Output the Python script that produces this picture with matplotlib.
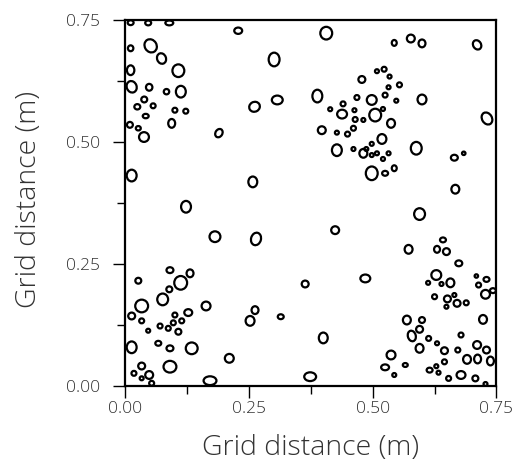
import matplotlib
matplotlib.use("Agg")
import matplotlib.pyplot as plt
from matplotlib.patches import Ellipse
from matplotlib.ticker import MultipleLocator

# ellipse centres (m), widths, heights (m) and tilt (deg)
cx = [0.0105, 0.046, 0.0887, 0.228, 0.0105, 0.051, 0.073, 0.0105, 0.107, 0.0126,
      0.048, 0.083, 0.112, 0.038, 0.024, 0.056, 0.100, 0.122, 0.041, 0.0935,
      0.009, 0.026, 0.0375, 0.189, 0.406, 0.3006, 0.478, 0.388, 0.261, 0.307,
      0.414, 0.440, 0.468, 0.498, 0.438, 0.463, 0.4645, 0.481, 0.505, 0.397,
      0.4275, 0.449, 0.461, 0.5435, 0.577, 0.5996, 0.711, 0.5085, 0.523, 0.534,
      0.554, 0.532, 0.525, 0.5476, 0.5996, 0.5207, 0.537, 0.731, 0.5186, 0.0126,
      0.1225, 0.181, 0.4275, 0.461, 0.481, 0.487, 0.498, 0.2575, 0.264, 0.424,
      0.498, 0.5085, 0.5207, 0.532, 0.498, 0.525, 0.5435, 0.588, 0.665, 0.684,
      0.667, 0.5947, 0.5725, 0.642, 0.630, 0.649, 0.674, 0.090, 0.1306, 0.026,
      0.1117, 0.0887, 0.0753, 0.0328, 0.163, 0.127, 0.0126, 0.100, 0.0328, 0.1138,
      0.0968, 0.070, 0.0866, 0.046, 0.107, 0.0126, 0.0664, 0.090, 0.134, 0.210,
      0.0328, 0.090, 0.0172, 0.048, 0.0328, 0.053, 0.171, 0.3634, 0.485, 0.262,
      0.252, 0.314, 0.400, 0.3735, 0.6285, 0.612, 0.639, 0.657, 0.7095, 0.730,
      0.714, 0.728, 0.743, 0.625, 0.651, 0.665, 0.649, 0.6705, 0.689, 0.569,
      0.5996, 0.5947, 0.579, 0.613, 0.630, 0.6785, 0.723, 0.5947, 0.537, 0.645,
      0.672, 0.711, 0.730, 0.6907, 0.712, 0.738, 0.525, 0.5658, 0.5435, 0.645,
      0.6285, 0.615, 0.633, 0.6534, 0.6785, 0.7075, 0.728]
cy = [0.7445, 0.744, 0.744, 0.728, 0.692, 0.697, 0.671, 0.647, 0.646, 0.613,
      0.612, 0.603, 0.603, 0.587, 0.572, 0.574, 0.565, 0.563, 0.553, 0.538,
      0.535, 0.528, 0.510, 0.518, 0.723, 0.669, 0.628, 0.594, 0.572, 0.586,
      0.567, 0.578, 0.591, 0.586, 0.557, 0.565, 0.546, 0.545, 0.555, 0.524,
      0.519, 0.516, 0.528, 0.703, 0.712, 0.702, 0.699, 0.645, 0.649, 0.634,
      0.617, 0.612, 0.596, 0.5845, 0.587, 0.5675, 0.538, 0.548, 0.506, 0.431,
      0.367, 0.3056, 0.483, 0.4854, 0.4766, 0.4854, 0.473, 0.418, 0.301, 0.319,
      0.496, 0.4766, 0.465, 0.4766, 0.4356, 0.4356, 0.446, 0.487, 0.4676, 0.4766,
      0.403, 0.352, 0.2797, 0.299, 0.2797, 0.275, 0.251, 0.237, 0.2305, 0.2153,
      0.211, 0.1977, 0.177, 0.1635, 0.1635, 0.150, 0.143, 0.145, 0.133, 0.133,
      0.129, 0.1224, 0.1177, 0.1128, 0.1107, 0.0788, 0.087, 0.0767, 0.0767, 0.0562,
      0.0404, 0.039, 0.0254, 0.022, 0.0152, 0.005, 0.0103, 0.2086, 0.220, 0.155,
      0.133, 0.1415, 0.098, 0.0185, 0.227, 0.211, 0.2086, 0.211, 0.225, 0.218,
      0.2065, 0.1875, 0.195, 0.1825, 0.178, 0.186, 0.162, 0.169, 0.170, 0.1347,
      0.1347, 0.1157, 0.102, 0.097, 0.087, 0.104, 0.136, 0.0767, 0.063, 0.0718,
      0.0732, 0.0835, 0.0732, 0.054, 0.0548, 0.0507, 0.0377, 0.0425, 0.022, 0.049,
      0.040, 0.032, 0.0267, 0.015, 0.022, 0.015, 0.0035]
ew = [0.012, 0.012, 0.016, 0.016, 0.011, 0.024, 0.018, 0.015, 0.024, 0.020,
      0.013, 0.011, 0.020, 0.012, 0.012, 0.010, 0.010, 0.010, 0.012, 0.014,
      0.012, 0.010, 0.020, 0.014, 0.024, 0.022, 0.014, 0.020, 0.022, 0.022,
      0.008, 0.010, 0.010, 0.020, 0.020, 0.008, 0.010, 0.008, 0.024, 0.016,
      0.008, 0.010, 0.010, 0.010, 0.016, 0.014, 0.016, 0.008, 0.010, 0.008,
      0.010, 0.008, 0.010, 0.008, 0.018, 0.008, 0.016, 0.020, 0.018, 0.020,
      0.020, 0.022, 0.020, 0.008, 0.016, 0.008, 0.008, 0.018, 0.020, 0.016,
      0.008, 0.008, 0.008, 0.008, 0.024, 0.012, 0.010, 0.022, 0.014, 0.007,
      0.016, 0.022, 0.016, 0.012, 0.012, 0.014, 0.014, 0.014, 0.014, 0.012,
      0.026, 0.012, 0.022, 0.026, 0.018, 0.016, 0.014, 0.010, 0.010, 0.010,
      0.010, 0.010, 0.010, 0.008, 0.012, 0.020, 0.012, 0.014, 0.024, 0.018,
      0.014, 0.026, 0.010, 0.016, 0.008, 0.010, 0.026, 0.014, 0.020, 0.014,
      0.018, 0.012, 0.018, 0.024, 0.020, 0.008, 0.008, 0.016, 0.007, 0.012,
      0.010, 0.018, 0.012, 0.010, 0.014, 0.008, 0.008, 0.014, 0.010, 0.016,
      0.012, 0.014, 0.016, 0.010, 0.008, 0.010, 0.016, 0.016, 0.018, 0.014,
      0.010, 0.016, 0.014, 0.016, 0.014, 0.014, 0.016, 0.010, 0.008, 0.010,
      0.008, 0.012, 0.008, 0.010, 0.018, 0.012, 0.008]
eh = [0.010, 0.010, 0.010, 0.013, 0.012, 0.028, 0.022, 0.020, 0.026, 0.024,
      0.014, 0.011, 0.024, 0.012, 0.011, 0.010, 0.010, 0.010, 0.009, 0.018,
      0.012, 0.009, 0.020, 0.018, 0.026, 0.028, 0.014, 0.026, 0.020, 0.018,
      0.008, 0.010, 0.010, 0.020, 0.018, 0.008, 0.010, 0.008, 0.026, 0.016,
      0.008, 0.010, 0.010, 0.012, 0.016, 0.016, 0.020, 0.008, 0.010, 0.008,
      0.010, 0.008, 0.010, 0.008, 0.020, 0.008, 0.018, 0.026, 0.020, 0.024,
      0.024, 0.022, 0.024, 0.008, 0.018, 0.008, 0.008, 0.022, 0.026, 0.016,
      0.008, 0.008, 0.008, 0.008, 0.028, 0.010, 0.012, 0.026, 0.012, 0.007,
      0.018, 0.024, 0.018, 0.010, 0.014, 0.014, 0.012, 0.012, 0.016, 0.012,
      0.028, 0.012, 0.024, 0.026, 0.018, 0.014, 0.014, 0.010, 0.010, 0.010,
      0.010, 0.010, 0.010, 0.008, 0.012, 0.024, 0.010, 0.012, 0.024, 0.018,
      0.014, 0.024, 0.010, 0.016, 0.008, 0.010, 0.018, 0.014, 0.016, 0.016,
      0.020, 0.010, 0.022, 0.018, 0.020, 0.008, 0.008, 0.018, 0.007, 0.010,
      0.010, 0.018, 0.010, 0.010, 0.014, 0.008, 0.008, 0.014, 0.010, 0.018,
      0.012, 0.014, 0.022, 0.010, 0.008, 0.010, 0.018, 0.018, 0.018, 0.014,
      0.010, 0.016, 0.014, 0.018, 0.018, 0.018, 0.012, 0.008, 0.008, 0.010,
      0.008, 0.010, 0.008, 0.010, 0.016, 0.012, 0.008]
tilt = [0] * len(cx)
tilted = {5: 30, 6: 20, 9: 20, 23: -30, 28: 30, 46: 30, 57: 30, 68: -15,
          124: 30, 142: 15, 148: 30}
for k, a in tilted.items():
    tilt[k] = a

ticks = [0.0, 0.25, 0.5, 0.75]
tick_labels = ["0.00", "0.25", "0.50", "0.75"]

fig = plt.figure(figsize=(5.12, 4.65), dpi=100)
ax = fig.add_axes([0.245, 0.1705, 0.7245, 0.7865])

for x, y, w, h, a in zip(cx, cy, ew, eh, tilt):
    ax.add_patch(Ellipse((x, y), w, h, angle=a, fill=False,
                         edgecolor="black", linewidth=1.6))

ax.set_xlim(0, 0.75)
ax.set_ylim(0, 0.75)
ax.set_xticks(ticks)
ax.set_yticks(ticks)
ax.set_xticklabels(tick_labels, family="Open Sans", fontweight=300)
ax.set_yticklabels(tick_labels, family="Open Sans", fontweight=300)
ax.xaxis.set_minor_locator(MultipleLocator(0.125))
ax.yaxis.set_minor_locator(MultipleLocator(0.125))
ax.tick_params(which="major", direction="out", length=8.5, width=1)
ax.tick_params(which="minor", direction="out", length=5.5, width=1)
ax.tick_params(axis="x", labelsize=12.5, labelcolor="#333333", pad=2.5)
ax.tick_params(axis="y", labelsize=12.5, labelcolor="#333333", pad=10)
for s in ax.spines.values():
    s.set_linewidth(1.6)

ax.set_xlabel("Grid distance (m)", fontsize=20.5, color="#333333", va="top",
              family="Open Sans", fontweight=300)
ax.set_ylabel("Grid distance (m)", fontsize=20.5, color="#333333",
              family="Open Sans", fontweight=300)
ax.xaxis.set_label_coords(0.5, -0.132)
ax.yaxis.set_label_coords(-0.222, 0.51)

fig.savefig("out.png", dpi=100)
